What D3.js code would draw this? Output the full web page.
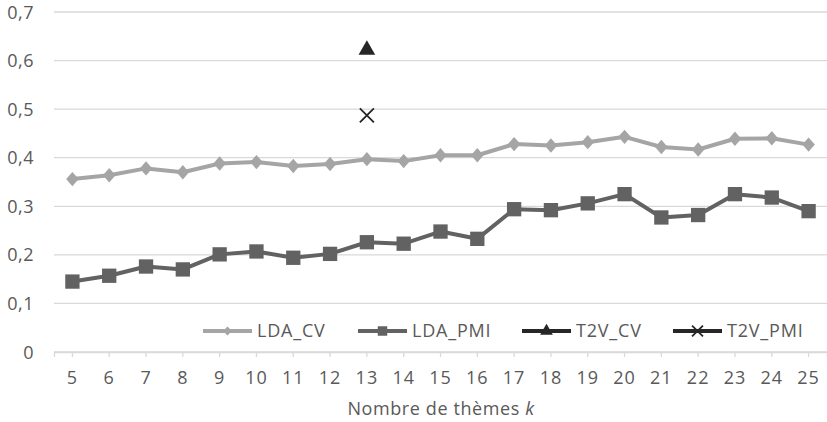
<!DOCTYPE html>
<html><head><meta charset="utf-8">
<script src="https://cdn.jsdelivr.net/npm/d3@7/dist/d3.min.js"></script>
<style>body{margin:0;background:#fff}svg{display:block}text{font-family:"Open Sans",sans-serif}</style>
</head><body><svg id="c" width="827" height="422"></svg>
<script>
const categories = [5,6,7,8,9,10,11,12,13,14,15,16,17,18,19,20,21,22,23,24,25];
const ldaCV  = [0.356,0.364,0.378,0.370,0.388,0.391,0.383,0.387,0.397,0.393,0.405,0.405,0.428,0.425,0.432,0.443,0.422,0.417,0.439,0.440,0.427];
const ldaPMI = [0.145,0.157,0.176,0.170,0.201,0.207,0.194,0.202,0.226,0.223,0.248,0.233,0.294,0.292,0.306,0.325,0.277,0.282,0.325,0.318,0.290];
const t2vCV  = [{k:13, v:0.622}];
const t2vPMI = [{k:13, v:0.487}];
const yTicks = [0,0.1,0.2,0.3,0.4,0.5,0.6,0.7];
const seriesNames = ["LDA_CV","LDA_PMI","T2V_CV","T2V_PMI"];

const FS = 18, TXT = "#595959";
const svg = d3.select("#c");
const x = d3.scaleBand().domain(categories).range([54, 827]);
const y = d3.scaleLinear().domain([0,0.7]).range([352, 12]);
const cx = k => x(k) + x.bandwidth()/2;
const fmt = v => d3.format(".1f")(v).replace(".", ",");

// gridlines
svg.append("g").selectAll("line").data(yTicks).join("line")
  .attr("x1", 54).attr("x2", 827).attr("y1", d=>y(d)).attr("y2", d=>y(d))
  .attr("stroke", "#d9d9d9").attr("stroke-width", 1.3);

// y axis labels
const yAxis = d3.axisLeft(y).tickValues(yTicks).tickFormat(d => d===0 ? "0" : fmt(d)).tickSize(0).tickPadding(20);
const gy = svg.append("g").attr("transform","translate(54,0)").call(yAxis);
gy.select(".domain").remove();
gy.selectAll("text").attr("font-size", FS).attr("fill", TXT).attr("font-family","'Open Sans',sans-serif").attr("dy","0.34em").attr("letter-spacing","0.5px");

// x axis
const xAxis = d3.axisBottom(x).tickSize(5).tickPadding(14);
const gx = svg.append("g").attr("transform","translate(0,352)").call(xAxis);
gx.select(".domain").attr("stroke","#d9d9d9").attr("stroke-width",1.3);
gx.selectAll(".tick line").attr("stroke","#d9d9d9").attr("stroke-width",1.3);
gx.selectAll("text").attr("font-size", FS).attr("fill", TXT).attr("font-family","'Open Sans',sans-serif").attr("letter-spacing","1px");

// x title
const t = svg.append("text").attr("x", 441).attr("y", 415).attr("text-anchor","middle")
  .attr("font-size", FS).attr("fill",TXT).attr("letter-spacing","0.6px");
t.append("tspan").text("Nombre de thèmes ");
t.append("tspan").attr("font-style","italic").text("k");

const line = d3.line().x((d,i)=>cx(categories[i])).y(d=>y(d));
const diamond = d3.symbol().type(d3.symbolDiamond2).size(100);
const square = d3.symbol().type(d3.symbolSquare).size(205);
const tri = d3.symbol().type(d3.symbolTriangle).size(120);
const cross = d3.symbol().type(d3.symbolTimes).size(130);

const colCV = "#a5a5a5", colPMI = "#626262", colT2V = "#262626";

svg.append("path").datum(ldaCV).attr("d", line).attr("fill","none").attr("stroke",colCV).attr("stroke-width",4).attr("stroke-linejoin","round");
svg.append("g").selectAll("path").data(ldaCV).join("path")
  .attr("transform",(d,i)=>`translate(${cx(categories[i])},${y(d)}) scale(1,1.15)`).attr("d", diamond()).attr("fill",colCV);

svg.append("path").datum(ldaPMI).attr("d", line).attr("fill","none").attr("stroke",colPMI).attr("stroke-width",4).attr("stroke-linejoin","round");
svg.append("g").selectAll("path").data(ldaPMI).join("path")
  .attr("transform",(d,i)=>`translate(${cx(categories[i])},${y(d)})`).attr("d", square()).attr("fill",colPMI);

svg.append("g").selectAll("path").data(t2vCV).join("path")
  .attr("transform",d=>`translate(${cx(d.k)},${y(d.v)})`).attr("d", tri()).attr("fill",colT2V);
svg.append("g").selectAll("path").data(t2vPMI).join("path")
  .attr("transform",d=>`translate(${cx(d.k)},${y(d.v)})`).attr("d", cross()).attr("fill","none").attr("stroke",colT2V).attr("stroke-width",1.8);

// legend
const legX = [203, 358, 522, 673];
const legCols = [colCV, colPMI, colT2V, colT2V];
const legSyms = [diamond, square, tri, cross];
const legSizes = [50, 90, 70, 80];
const lg = svg.append("g");
seriesNames.forEach((name, i) => {
  const g = lg.append("g").attr("transform", `translate(${legX[i]},331)`);
  g.append("line").attr("x1",0).attr("x2",49).attr("stroke",legCols[i]).attr("stroke-width",4);
  const s = legSyms[i].size(legSizes[i]);
  const p = g.append("path").attr("transform","translate(24.5,0)").attr("d", s());
  if (i===3) p.attr("fill","none").attr("stroke",legCols[i]).attr("stroke-width",1.8);
  else p.attr("fill",legCols[i]);
  g.append("text").attr("x", 54).attr("y", 0).attr("dy","0.36em").attr("font-size",FS).attr("letter-spacing","0.8px").attr("fill",TXT).text(name);
});
</script></body></html>
